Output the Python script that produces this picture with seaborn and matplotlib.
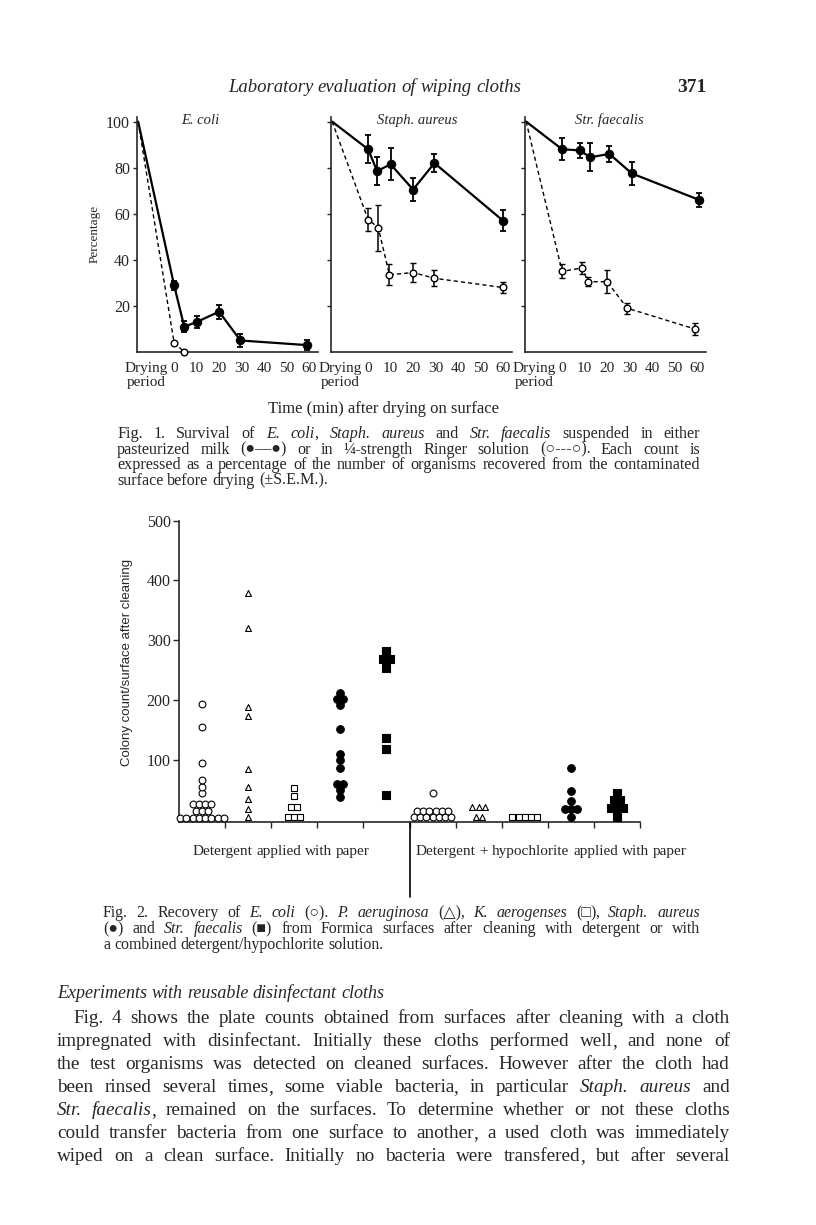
import numpy as np
import pandas as pd
import matplotlib.pyplot as plt
import seaborn as sns

# page in pixels, figure drawn at 100 dpi
W, H = 816, 1225

# Fig. 1 - survival (%) after drying; the "Drying period" point sits on the y axis
DRY = -16
DRY_PCT = 100
minutes = [0, 10, 20, 30, 40, 50, 60]

ecoli_milk_t = [0, 4.5, 10, 20, 29.5, 59]
ecoli_milk = [29, 11, 13, 17.5, 5, 3]
ecoli_milk_err = [2, 2.5, 2.5, 3, 3, 2]
ecoli_ringer_t = [0, 4.5]
ecoli_ringer = [4, 0]

staph_milk_t = [0, 4, 10, 20, 29.5, 60]
staph_milk = [88, 78.5, 81.5, 70.5, 82, 57]
staph_milk_err = [6, 6, 7, 5, 4, 4.5]
staph_ringer_t = [0, 4.5, 9.5, 20, 29.5, 60]
staph_ringer = [57.5, 54, 33.5, 34.5, 32, 28]
staph_ringer_err = [5, 10, 4.5, 4, 3.5, 2.3]

strep_milk_t = [0, 8, 12.5, 21, 31, 61]
strep_milk = [88, 87.5, 84.5, 86, 77.5, 66]
strep_milk_err = [4.8, 3.3, 6, 3.6, 4.8, 3]
strep_ringer_t = [0, 9, 11.5, 20, 29, 59]
strep_ringer = [35, 36.5, 30.5, 30.5, 19, 10]
strep_ringer_err = [3, 2.7, 2, 4.9, 2.3, 2.5]

# Fig. 2 - colony count per surface after cleaning
paper_ecoli = [3, 3, 3, 3, 3, 3, 3, 3, 14, 14, 14, 26, 26, 26, 26, 44, 55, 66, 94, 155, 193]
paper_aerug = [4, 17, 35, 54, 84, 174, 188, 320, 379]
paper_aerog = [4, 4, 4, 21, 21, 39, 53]
paper_staph = [37, 50, 60, 60, 86, 100, 109, 152, 191, 201, 201, 211]
paper_faec = [41, 118, 137, 254, 268, 268, 282]
hypo_ecoli = [4, 4, 4, 4, 4, 4, 4, 15, 15, 15, 15, 15, 15, 44]
hypo_aerug = [5, 5, 21, 21, 21]
hypo_aerog = [4, 4, 4, 4, 4]
hypo_staph = [5, 18, 18, 18, 31, 48, 87]
hypo_faec = [5, 19, 19, 19, 33, 33, 44]

header = "Laboratory evaluation of wiping cloths"
page_no = "371"

cap1 = [
    "Fig. 1. Survival of *E. coli*, *Staph. aureus* and *Str. faecalis* suspended in either",
    "pasteurized milk (●—●) or in ¼-strength Ringer solution (○---○). Each count is",
    "expressed as a percentage of the number of organisms recovered from the contaminated",
    "surface before drying (±S.E.M.).",
]
cap2 = [
    "Fig. 2. Recovery of *E. coli* (○). *P. aeruginosa* (△), *K. aerogenses* (□), *Staph. aureus*",
    "(●) and *Str. faecalis* (■) from Formica surfaces after cleaning with detergent or with",
    "a combined detergent/hypochlorite solution.",
]
heading = "Experiments with reusable disinfectant cloths"
body = [
    "Fig. 4 shows the plate counts obtained from surfaces after cleaning with a cloth",
    "impregnated with disinfectant. Initially these cloths performed well, and none of",
    "the test organisms was detected on cleaned surfaces. However after the cloth had",
    "been rinsed several times, some viable bacteria, in particular *Staph. aureus* and",
    "*Str. faecalis*, remained on the surfaces. To determine whether or not these cloths",
    "could transfer bacteria from one surface to another, a used cloth was immediately",
    "wiped on a clean surface. Initially no bacteria were transfered, but after several",
]

sns.set_style("ticks")
plt.rcParams["font.family"] = ["Liberation Serif", "DejaVu Sans"]
plt.rcParams["axes.linewidth"] = 1.2
plt.rcParams["lines.dashed_pattern"] = [3, 2.2]

fig = plt.figure(figsize=(W / 100, H / 100), dpi=100)
renderer = fig.canvas.get_renderer()


def fx(px):
    return px / W


def fy(px):
    return 1 - px / H


def add_box(left, top, right, bottom):
    return fig.add_axes([fx(left), fy(bottom), (right - left) / W, (bottom - top) / H])


def parse(line):
    # words made of roman / *italic* pieces; a trailing comma is its own piece
    italic = False
    words = []
    for w in line.split(" "):
        pieces = []
        for k, part in enumerate(w.split("*")):
            if k:
                italic = not italic
            if part.endswith(",") and len(part) > 1:
                pieces += [(part[:-1], italic), (",", False)]
            elif part:
                pieces.append((part, italic))
        words.append(pieces)
    return words


def joint(part, em):
    # space put before a piece that continues a word
    return -0.03 * em if part == "," else 0.02 * em


def measure(words, size):
    em = size * 100 / 72
    out = []
    for pieces in words:
        w = 0
        for n, (part, it) in enumerate(pieces):
            t = fig.text(0, 0, part, fontsize=size, style="italic" if it else "normal")
            w += t.get_window_extent(renderer).width + (joint(part, em) if n else 0)
            t.remove()
        out.append(w)
    return out


def write(x0, x1, base, line, size, justify=True):
    words = parse(line)
    em = size * 100 / 72
    widths = measure(words, size)
    gaps = max(len(words) - 1, 1)
    gap = (x1 - x0 - sum(widths)) / gaps
    if justify and gap < 0.2 * em:
        size = size * (x1 - x0 - 0.22 * em * gaps) / sum(widths)
        em = size * 100 / 72
        widths = measure(words, size)
        gap = (x1 - x0 - sum(widths)) / gaps
    if not justify:
        gap = 0.25 * em
    x = x0
    for pieces, wd in zip(words, widths):
        px = x
        for n, (part, it) in enumerate(pieces):
            if n:
                px += joint(part, em)
            t = fig.text(fx(px), fy(base), part, fontsize=size, va="baseline",
                         style="italic" if it else "normal")
            px += t.get_window_extent(renderer).width
        x += wd + gap


# page header
write(228, 521, 92, "*" + header + "*", 13.5, justify=True)
fig.text(fx(706), fy(92), page_no, fontsize=14, weight="bold", va="baseline", ha="right")

# ---- Fig. 1 ----
panels = [
    ("E. coli", 11.5, ecoli_milk_t, ecoli_milk, ecoli_milk_err, ecoli_ringer_t, ecoli_ringer, None),
    ("Staph. aureus", 22, staph_milk_t, staph_milk, staph_milk_err, staph_ringer_t, staph_ringer, staph_ringer_err),
    ("Str. faecalis", 21, strep_milk_t, strep_milk, strep_milk_err, strep_ringer_t, strep_ringer, strep_ringer_err),
]
lefts = [137, 331, 525]

for i, (name, tx, mt, mv, me, rt, rv, re) in enumerate(panels):
    ax = add_box(lefts[i], 117, lefts[i] + 181, 352)
    milk = pd.DataFrame({"t": [DRY] + mt, "pct": [DRY_PCT] + mv})
    ringer = pd.DataFrame({"t": [DRY] + rt, "pct": [DRY_PCT] + rv})
    sns.lineplot(data=milk, x="t", y="pct", color="black", lw=1.6, ax=ax)
    sns.lineplot(data=ringer, x="t", y="pct", color="black", lw=1.0, linestyle="--", ax=ax)
    ax.errorbar(mt, mv, yerr=me, fmt="o", color="black", ms=5.8,
                capsize=2.2, elinewidth=1.3, capthick=1.3, zorder=4)
    ax.errorbar(rt, rv, yerr=re, fmt="o", mfc="white", mec="black", ecolor="black",
                ms=4.8, mew=1.0, capsize=2.2, elinewidth=1.1, capthick=1.1, zorder=4,
                clip_on=False)
    ax.text(tx, 100.5, name, style="italic", ha="center", va="center", fontsize=10.5)
    ax.set_xlim(-16.5, 64)
    ax.set_ylim(0, 102)
    ax.set_xticks([DRY] + minutes)
    ax.set_xticklabels([""] + [str(m) for m in minutes])
    ax.annotate("Drying\nperiod", xy=(DRY, 0), xycoords=("data", "axes fraction"),
                xytext=(5.5, -7), textcoords="offset points", ha="center", va="top",
                fontsize=11, linespacing=1.1, annotation_clip=False)
    ax.set_yticks([20, 40, 60, 80, 100])
    ax.tick_params(axis="x", length=0, pad=7, labelsize=11)
    ax.tick_params(axis="y", length=3, width=1, pad=2, labelsize=11.5,
                   labelleft=(i == 0))
    ax.set(xlabel="", ylabel="")
    sns.despine(ax=ax)

fig.text(fx(95), fy(234), "Percentage", rotation=90, ha="center", va="center", fontsize=9.5)
fig.text(fx(383), fy(413), "Time (min) after drying on surface", ha="center",
         va="baseline", fontsize=12)

for k, line in enumerate(cap1):
    write(117, 700, 438 + 15.5 * k, line, 11.6, justify=(k < len(cap1) - 1))

# ---- Fig. 2 ----
groups = [paper_ecoli, paper_aerug, paper_aerog, paper_staph, paper_faec,
          hypo_ecoli, hypo_aerug, hypo_aerog, hypo_staph, hypo_faec]
markers = ["o", "^", "s", "o", "s"]
sizes = [24, 18, 24, 30, 32]
filled = [False, False, False, True, True]
STEP = 0.135

rows = []
for g, vals in enumerate(groups):
    for v in vals:
        rows.append((g, v))
df = pd.DataFrame(rows, columns=["g", "count"])
# equal counts in one column are laid side by side, centred on the column
df["k"] = df.groupby(["g", "count"]).cumcount()
df["n"] = df.groupby(["g", "count"])["count"].transform("size")
df["x"] = df["g"] + (df["k"] - (df["n"] - 1) / 2) * STEP

ax2 = add_box(179, 520.7, 640, 821.7)
for g, grp in df.groupby("g"):
    j = g % 5
    sns.scatterplot(data=grp, x="x", y="count", marker=markers[j], s=sizes[j],
                    color="black" if filled[j] else "white", edgecolor="black",
                    linewidth=0.8, ax=ax2, zorder=3, clip_on=False)
ax2.set_xlim(-0.5, 9.5)
ax2.set_ylim(-3.5, 500)
ax2.set_xticks(np.arange(0.5, 9.6, 1))
ax2.set_yticks([100, 200, 300, 400, 500])
ax2.tick_params(axis="x", length=4, width=1, labelbottom=False)
ax2.tick_params(axis="y", length=4, width=1, pad=2, labelsize=11.5)
ax2.axvline(4.5, ymin=-0.25, ymax=0, clip_on=False, color="black", lw=1.2)
ax2.set(xlabel="", ylabel="")
sns.despine(ax=ax2)

fig.text(fx(127), fy(662), "Colony count/surface after cleaning", rotation=90,
         ha="center", va="center", fontsize=9.5, family="Liberation Sans")
write(193, 375, 855, "Detergent applied with paper", 11, justify=False)
write(416, 687, 855, "Detergent + hypochlorite applied with paper", 11, justify=False)

for k, line in enumerate(cap2):
    write(103, 700, 917 + 16 * k, line, 11.4, justify=(k < len(cap2) - 1))

# ---- running text ----
write(57, 385, 998, "*" + heading + "*", 13, justify=False)
for k, line in enumerate(body):
    write(73 if k == 0 else 57, 730, 1023 + 23 * k, line, 13.8)

fig.savefig("out.png", dpi=100)
